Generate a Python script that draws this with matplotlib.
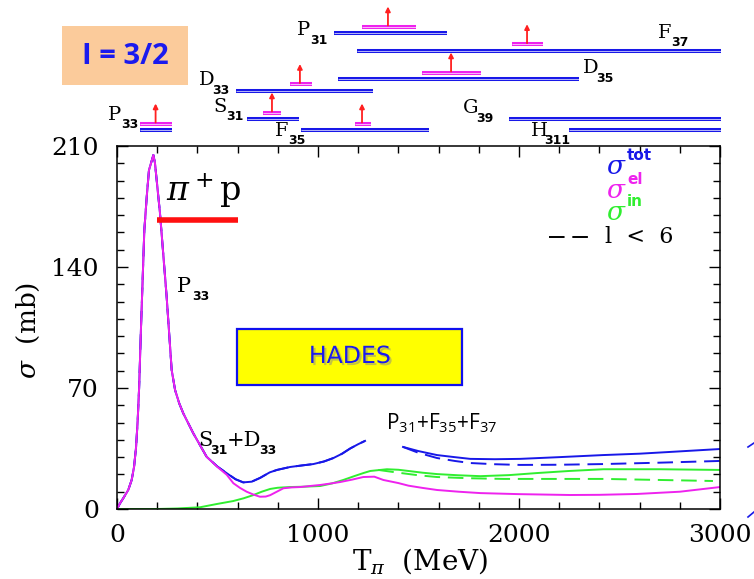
import numpy as np
import matplotlib
matplotlib.use('Agg')
import matplotlib.pyplot as plt
from matplotlib.transforms import blended_transform_factory
from matplotlib.patches import Rectangle
import matplotlib.patheffects as pe

# ---------------- data ----------------
# total cross section, first segment (T in MeV, sigma in mb)
tot1_T = [0, 15, 31, 56, 73, 85, 95, 103, 110, 119, 136, 148, 159, 181, 189, 214, 247, 272,
          289, 310, 330, 380, 446, 500, 546, 590, 628, 670, 712, 760, 796, 861, 920, 977,
          1030, 1077, 1120, 1160, 1200, 1234]
tot1_s = [0, 3.3, 6.2, 11, 16.8, 24.5, 36, 51.5, 70, 103.6, 161.4, 180.7, 196, 204.8, 200,
          171, 122.8, 80.4, 68.8, 61, 55.3, 43.7, 30.2, 24.5, 20.7, 17.2, 15.4, 15.8, 18,
          21.2, 22.6, 24.3, 25.2, 26, 27.5, 29.5, 32, 35, 37.5, 39.4]
# total cross section, second segment
tot2_T = [1423, 1500, 1592, 1680, 1757, 1880, 2005, 2200, 2418, 2600, 2750, 3000]
tot2_s = [35.9, 33.5, 31.2, 30.0, 29.0, 28.8, 29.0, 30.0, 31.2, 32.0, 33.0, 34.7]
tot2d_T = [1423, 1500, 1592, 1680, 1757, 1880, 2005, 2200, 2418, 2700, 3000]
tot2d_s = [35.9, 32.5, 29.5, 27.8, 26.6, 25.9, 25.5, 25.6, 26.0, 26.8, 27.8]
# elastic
el_T = [0, 15, 31, 56, 73, 85, 95, 103, 110, 119, 136, 148, 159, 181, 189, 214, 247, 272,
        289, 310, 330, 380, 446, 500, 546, 579, 612, 645, 680, 711, 740, 762, 795, 828, 870,
        911, 960, 1011, 1060, 1110, 1170, 1225, 1280, 1325, 1400, 1450, 1520, 1592, 1700,
        1808, 2000, 2254, 2400, 2587, 2800, 3000]
el_s = [0, 3.3, 6.2, 11, 16.8, 24.5, 36, 51.5, 70, 103.6, 161.4, 180.7, 196, 204.8, 200,
        171, 122.8, 80.4, 68.8, 61, 55.3, 43.7, 30.2, 24.3, 19.8, 14.9, 12.2, 10, 8.3, 7.1,
        7.2, 8, 10, 12, 12.5, 12.7, 13.3, 13.9, 14.7, 15.6, 17, 18.5, 18.7, 16.8, 15, 13.5,
        12.2, 11, 10, 9.2, 8.6, 8.1, 8.2, 8.7, 10, 12.7]
# inelastic
in_T = [0, 199, 300, 413, 497, 578, 630, 677, 720, 762, 800, 861, 930, 1011, 1070, 1126,
        1180, 1226, 1260, 1310, 1343, 1400, 1450, 1520, 1592, 1700, 1808, 1950, 2090, 2250,
        2421, 2700, 3000]
in_s = [0, 0, 0.3, 1, 2.9, 4.6, 6.2, 8, 10, 11.6, 12.3, 12.7, 12.9, 13.3, 14.8, 16.8,
        19, 20.8, 22, 22.6, 23, 22.7, 22, 21, 20.2, 19.5, 19, 19.6, 20.8, 22, 23, 23, 22.6]
in_d_T = [1300, 1400, 1500, 1592, 1750, 1923, 2200, 2421, 2700, 2965]
in_d_s = [22.6, 21, 19.5, 18.5, 17.8, 17.4, 17.4, 17.4, 16.8, 16.2]

# resonances: name, sub, blue band (MeV), pink band (MeV), mass arrow (MeV)
res_names = ['P', 'D', 'S', 'F', 'P', 'F', 'D', 'G', 'H']
res_subs = ['33', '33', '31', '35', '31', '37', '35', '39', '311']
res_blue = [(114, 274), (592, 1274), (647, 906), (915, 1552), (1080, 1642),
            (1194, 3005), (1100, 2299), (1950, 3005), (2249, 3005)]
res_pink = [(114, 274), (861, 970), (726, 816), (1184, 1264), (1219, 1488),
            (1965, 2119), (1517, 1811), None, None]
res_mass = [192, 910, 771, 1219, 1348, 2040, 1662, None, None]

# ---------------- layout ----------------
W, H = 754, 579
L, R, T, B = 117, 720, 146, 509
BLUE = '#1818e8'
MAG = '#ee22ee'
GRN = '#30ee30'

plt.rcParams['font.family'] = 'DejaVu Serif'
plt.rcParams['mathtext.fontset'] = 'dejavuserif'

fig = plt.figure(figsize=(W / 100, H / 100), dpi=100)
ax = fig.add_axes([L / W, 1 - B / H, (R - L) / W, (B - T) / H])
ov = fig.add_axes([0, 0, 1, 1])
ov.set_xlim(0, W)
ov.set_ylim(H, 0)
ov.axis('off')
ov.patch.set_visible(False)

# ---------------- curves ----------------
lw = 1.4
dash = (0, (8, 4))
ax.plot(tot1_T, tot1_s, color=BLUE, lw=lw, ls=dash)
ax.plot(tot1_T, tot1_s, color=BLUE, lw=lw)
ax.plot(in_T, in_s, color=GRN, lw=lw)
ax.plot(in_d_T, in_d_s, color=GRN, lw=lw, ls=dash)
ax.plot(el_T, el_s, color=MAG, lw=lw)
ax.plot(tot2_T, tot2_s, color=BLUE, lw=lw)
ax.plot(tot2d_T, tot2d_s, color=BLUE, lw=lw, ls=dash)

ax.set_xlim(0, 3000)
ax.set_ylim(0, 210)
ax.set_xticks([0, 1000, 2000, 3000])
ax.set_xticks(np.arange(0, 3001, 200), minor=True)
ax.set_yticks([0, 70, 140, 210])
ax.set_yticks(np.arange(0, 211, 10), minor=True)
ax.tick_params(which='both', direction='in', top=True, right=True, width=1.0)
ax.tick_params(which='major', length=8, labelsize=18)
ax.tick_params(which='minor', length=5)
ax.tick_params(axis='y', pad=13)
ax.tick_params(axis='x', pad=11)
for s in ax.spines.values():
    s.set_linewidth(1.1)

fig.text(28 / W, 1 - 330 / H, r'$\sigma$  (mb)', rotation=90, ha='center', va='center', fontsize=19)
fig.text(352 / W, 1 - 561 / H, r'T$_\pi$  (MeV)', ha='left', va='center', fontsize=20)

# ---------------- overlay (resonance bands, boxes, labels) ----------------
trans = blended_transform_factory(ax.transData, ov.transData)

blue_y = [130, 90.5, 119, 130, 33, 50.7, 79, 119, 130]
label_xy = [(108, 115), (199, 80), (213, 107), (275, 131), (297, 30), (658, 33),
            (583, 68), (463, 108), (531, 131)]


def band(x0, x1, y, color):
    ov.plot([x0, x1], [y, y], transform=trans, color=color, lw=2.9, solid_capstyle='butt')
    ov.plot([x0, x1], [y, y], transform=trans, color='white', lw=0.6, alpha=0.8,
            solid_capstyle='butt')


def letter_label(x, y, letter, sub, fs=14, sfs=9, dx=13, dy=10):
    ov.text(x, y, letter, fontsize=fs, ha='left', va='center', family='DejaVu Serif')
    ov.text(x + dx, y + dy, sub, fontsize=sfs, ha='left', va='center',
            family='DejaVu Sans', weight='bold')


for i in range(len(res_names)):
    yb = blue_y[i]
    band(res_blue[i][0], res_blue[i][1], yb, BLUE)
    if res_pink[i] is not None:
        yp = yb - 6.5
        band(res_pink[i][0], res_pink[i][1], yp, MAG)
        ov.annotate('', xy=(res_mass[i], yp - 20), xytext=(res_mass[i], yp - 1),
                    xycoords=trans, textcoords=trans,
                    arrowprops=dict(arrowstyle='-|>', color='#ff2020', lw=1.3,
                                    mutation_scale=7, shrinkA=0, shrinkB=0))
    lx, ly = label_xy[i]
    letter_label(lx, ly, res_names[i], res_subs[i])

# I = 3/2 box
ov.add_patch(Rectangle((62, 26), 126, 59, facecolor='#fbcb9b', edgecolor='none'))
ov.text(125, 56, 'I = 3/2', fontsize=21, color='#1a1aee', weight='bold',
        family='Open Sans', ha='center', va='center')

# pi+ p label and red bar
ov.text(166, 191, r'$\pi^+$p', fontsize=24, ha='left', va='center')
ax.plot([200, 600], [167, 167], color='#ff1010', lw=4, solid_capstyle='butt')

# P33 in plot
letter_label(177, 287, 'P', '33', fs=15, sfs=9, dx=15, dy=10)

# S31 + D33
ov.text(198, 440, 'S', fontsize=15, ha='left', va='center')
ov.text(210, 450, '31', fontsize=9, ha='left', va='center', family='DejaVu Sans', weight='bold')
ov.text(227, 440, '+D', fontsize=15, ha='left', va='center')
ov.text(259, 450, '33', fontsize=9, ha='left', va='center', family='DejaVu Sans', weight='bold')

# P31+F35+F37
ov.text(386, 423, r'$\mathregular{P_{31}{+}F_{35}{+}F_{37}}$', fontsize=15, ha='left',
        va='center', family='Open Sans')

# HADES box
ov.add_patch(Rectangle((237, 329), 225, 56, facecolor='#ffff00', edgecolor='#1010ee', lw=1.6))
ov.text(350, 356, 'HADES', fontsize=17, color='#1a1aee', ha='center', va='center',
        family='DejaVu Sans',
        path_effects=[pe.withSimplePatchShadow(offset=(1.5, -1.5), shadow_rgbFace='#888888',
                                               alpha=0.5)])

# legend
leg_items = [(r'$\sigma$', 'tot', BLUE, 166), (r'$\sigma$', 'el', MAG, 190),
             (r'$\sigma$', 'in', GRN, 213)]
for sym, sup, col, yy in leg_items:
    ov.text(606, yy, sym, fontsize=19, color=col, ha='left', va='center')
    ov.text(627, yy - 11, sup, fontsize=11, color=col, ha='left', va='center',
            family='DejaVu Sans', weight='bold')
ov.plot([549, 590], [237, 237], color='k', lw=1.4, ls=dash)
ov.text(605, 237, 'l  <  6', fontsize=16, ha='left', va='center')

# small blue marks at the right edge
ov.plot([748, 754], [447, 443], color=BLUE, lw=1.2)
ov.plot([748, 754], [517, 512], color=BLUE, lw=1.2)

fig.savefig('out.png', dpi=100)
